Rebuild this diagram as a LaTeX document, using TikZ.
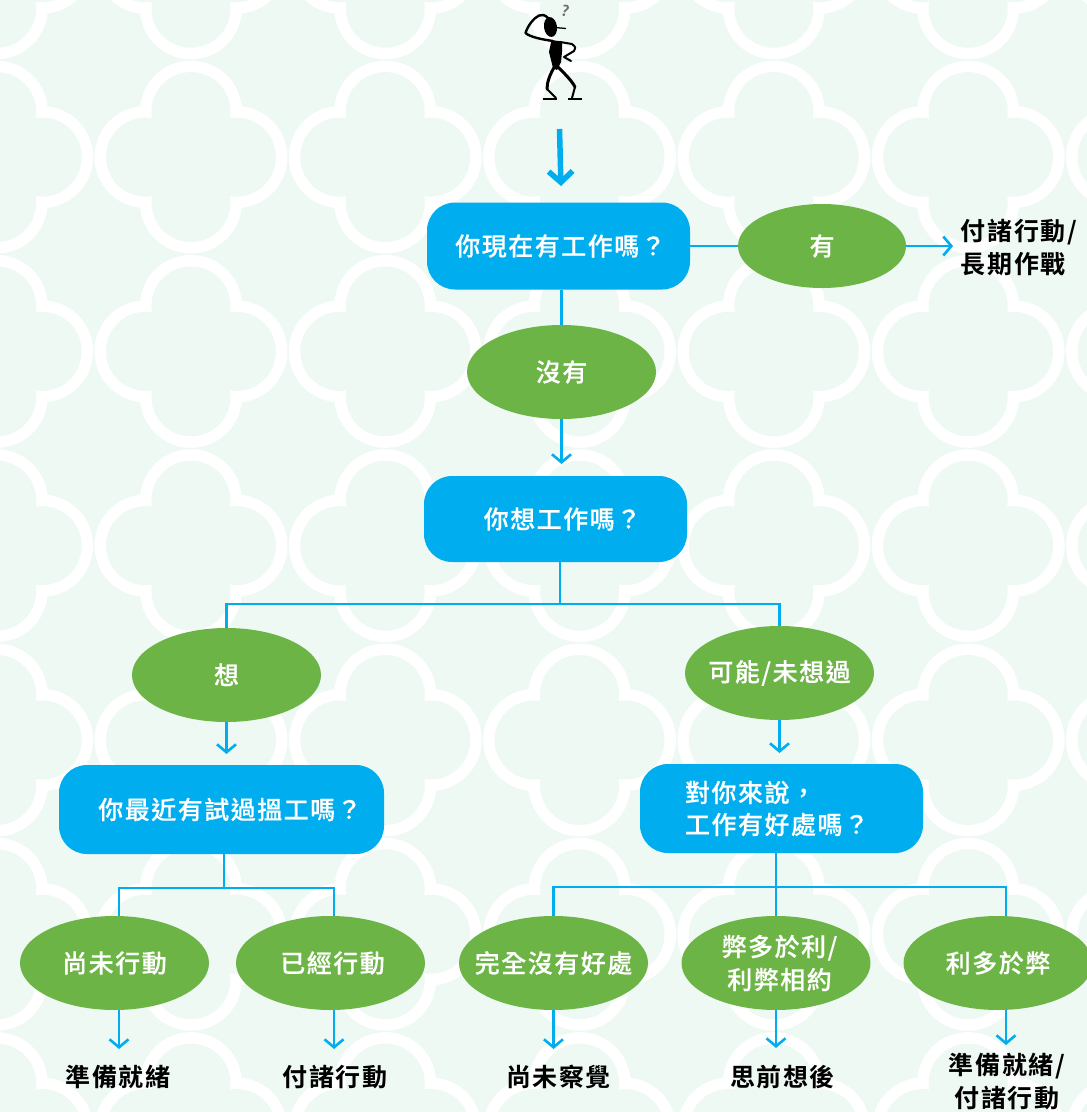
\documentclass[tikz,border=0pt]{standalone}
\usepackage{fontspec}
\usetikzlibrary{shapes.geometric,arrows.meta}
\setmainfont{Noto Sans CJK TC Bold}[LetterSpace=6.5]
\newfontfamily\whitefont{Noto Sans CJK TC Medium}[LetterSpace=6,FakeBold=0.3]
\definecolor{tilegreen}{HTML}{EEF9F3}
\definecolor{flowblue}{HTML}{00AEEF}
\definecolor{leafgreen}{HTML}{6DB446}
\definecolor{hintgray}{HTML}{707070}
% one quatrefoil outline around its centre
\newcommand{\foilpath}[2]{%
  (#1-39,#2+39.4)
  arc[start angle=189.5,end angle=-9.5,radius=39.5pt]
  arc[start angle=99.5,end angle=-99.5,radius=39.5pt]
  arc[start angle=9.5,end angle=-189.5,radius=39.5pt]
  arc[start angle=-80.5,end angle=-279.5,radius=39.5pt]
  -- cycle}
\newcommand{\low}[2][-2pt]{\raisebox{#1}{#2}}
\tikzset{
  x=1pt,y=1pt,
  question/.style={rectangle,rounded corners=28pt,fill=flowblue,text=white,draw=none,
    inner sep=0pt,align=left,font=\whitefont\fontsize{25}{33}\selectfont},
  answer/.style={ellipse,fill=leafgreen,text=white,inner sep=0pt,
    minimum width=189pt,minimum height=94pt,align=center,
    font=\whitefont\fontsize{25}{33}\selectfont},
  outcome/.style={text=black,inner sep=0pt,font=\fontsize{25}{33}\selectfont},
  link/.style={draw=flowblue,line width=2.6pt},
  flow/.style={link,-{Straight Barb[length=8pt,width=19pt,line width=2.6pt]}},
}
\begin{document}
\begin{tikzpicture}
\useasboundingbox (0,0) rectangle (1087,-1112);
% tiled background
\fill[tilegreen] (0,0) rectangle (1087,-1112);
\begin{scope}
\clip (0,0) rectangle (1087,-1112);
\foreach \i in {-1,...,5}{\foreach \j in {-1,...,6}{
  \pgfmathsetmacro{\cx}{191+194.3*\i}
  \pgfmathsetmacro{\cy}{-157.5-194.3*\j}
  \draw[white,line width=23pt,miter limit=4] \foilpath{\cx}{\cy};
}}
\foreach \i in {-1,...,5}{\foreach \j in {-1,...,6}{
  \pgfmathsetmacro{\cx}{191+194.3*\i}
  \pgfmathsetmacro{\cy}{-157.5-194.3*\j}
  \fill[tilegreen] \foilpath{\cx}{\cy};
}}
\end{scope}

% thinking figure
\fill[black,rotate around={8:(550.5,-27)}] (550.5,-27) ellipse[x radius=6.5pt,y radius=10pt];
\draw[black,line width=1.3pt] (555,-27.5) -- (566,-28.5);
\fill[black] (551.5,-40) -- (562,-41.5) -- (562,-52) -- (561,-62) -- (557,-70) -- (553,-68) -- (549,-52) -- cycle;
\draw[black,line width=2.4pt,line join=round,line cap=round]
  (553,-41) .. controls (542,-39.5) and (530,-37) .. (525.5,-33)
  .. controls (528,-25) and (534,-18) .. (539,-15.5) .. controls (542,-14) and (545,-15) .. (548,-18);
\draw[black,line width=2pt,line join=round,line cap=round]
  (560,-42) -- (572,-44) .. controls (576,-47) and (576,-49) .. (574,-51) -- (564,-57) -- (571,-61);
\draw[black,line width=3pt,line join=round,line cap=round]
  (555,-66) .. controls (550,-74) and (547,-82) .. (547,-89);
\draw[black,line width=2pt,line join=round,line cap=round]
  (547,-89) -- (556,-98);
\draw[black,line width=3pt,line join=round,line cap=round]
  (558,-67) .. controls (565,-74) and (572,-81) .. (575,-87);
\draw[black,line width=2pt,line join=round,line cap=round]
  (575,-87) -- (572,-98);
\draw[black,line width=1.5pt] (542.5,-99) -- (557,-99) (568,-99) -- (581.5,-99);
\node[hintgray,rotate=-14,inner sep=0pt,font=\fontsize{15}{15}\selectfont] (hint) at (566,-11) {?};

% question boxes
\node[question,minimum width=263pt,minimum height=87pt] (q1) at (558.5,-246) {\hspace*{4pt}\low{你現在有工作嗎？}};
\node[question,minimum width=263pt,minimum height=86pt] (q2) at (555.5,-519) {\hspace*{14pt}\low[-3pt]{你想工作嗎？}};
\node[question,minimum width=325pt,minimum height=89pt] (q3) at (221.5,-809.5) {\hspace*{17pt}\low{你最近有試過搵工嗎？}};
\node[question,minimum width=283pt,minimum height=89pt] (q4) at (781.5,-808.5) {\hspace*{-9pt}對你來說，\\[-1pt]\hspace*{-9pt}工作有好處嗎？};

% answers
\node[answer,minimum width=168pt,minimum height=84pt] (yes) at (822,-246) {有};
\node[answer] (no) at (561.5,-372) {沒有};
\node[answer] (want) at (226.5,-675) {\low[2pt]{想}};
\node[answer] (maybe) at (779.5,-673) {\makebox[0pt][c]{可能/未想過}};
\node[answer] (notyet) at (114.5,-963) {\low[1pt]{尚未行動}};
\node[answer] (acted) at (330.5,-963) {\hspace*{4pt}\low[1pt]{已經行動}};
\node[answer] (nogood) at (553.5,-963) {\makebox[0pt][c]{\low[1pt]{完全沒有好處}}};
\node[answer] (worse) at (776,-963) {\hspace*{7pt}弊多於利/\\\hspace*{7pt}利弊相約};
\node[answer] (better) at (998,-963) {\low[1pt]{利多於弊}};

% outcomes
\node[outcome,align=left] (longterm) at (1019,-247) {付諸行動/\\長期作戰};
\node[outcome] (ready) at (118,-1077) {準備就緒};
\node[outcome] (act) at (335,-1077) {付諸行動};
\node[outcome] (unaware) at (558.5,-1077) {尚未察覺};
\node[outcome] (ponder) at (782.5,-1077) {思前想後};
\node[outcome,align=center] (readyact) at (1007,-1081) {準備就緒/\\付諸行動};

% helper points of the connectors
\coordinate (start) at (559.5,-129);
\coordinate (startend) at (561,-186);
\coordinate (longin) at (953,-246);
\coordinate (split2) at (560,-604);
\coordinate (split3) at (224,-888);
\coordinate (split4) at (776,-887);
\coordinate (tipno) at (561.5,-464);
\coordinate (tipwant) at (226.5,-754);
\coordinate (tipmaybe) at (779.5,-753);
\coordinate (tipready) at (119,-1049);
\coordinate (tipact) at (334,-1049);
\coordinate (tipunaware) at (553.5,-1049);
\coordinate (tipponder) at (776,-1048);
\coordinate (tipreadyact) at (1006,-1045);

% entry arrow
\draw[flowblue,line width=5.5pt,-{Straight Barb[length=11pt,width=24pt,line width=5.5pt]}] (start) -- (startend);

% connectors
\draw[link] (q1.east |- yes.west) -- (yes.west);
\draw[flow] (yes.east) -- (longin);
\draw[link] (no.north) -- (no.north |- q1.south);
\draw[flow] (no.south) -- (tipno);
\draw[link] (split2 |- q2.south) -- (split2);
\draw[link] (want.north) |- (split2) -| (maybe.north);
\draw[flow] (want.south) -- (tipwant);
\draw[flow] (maybe.south) -- (tipmaybe);
\draw[link] (split3 |- q3.south) -- (split3);
\draw[link] (tipready |- notyet.north) |- (split3) -| (tipact |- acted.north);
\draw[flow] (tipready |- notyet.south) -- (tipready);
\draw[flow] (tipact |- acted.south) -- (tipact);
\draw[link] (split4 |- q4.south) -- (split4 |- worse.north);
\draw[link] (nogood.north) |- (split4) -| (tipreadyact |- better.north);
\draw[flow] (nogood.south) -- (tipunaware);
\draw[flow] (worse.south) -- (tipponder);
\draw[flow] (tipreadyact |- better.south) -- (tipreadyact);
\end{tikzpicture}
\end{document}
